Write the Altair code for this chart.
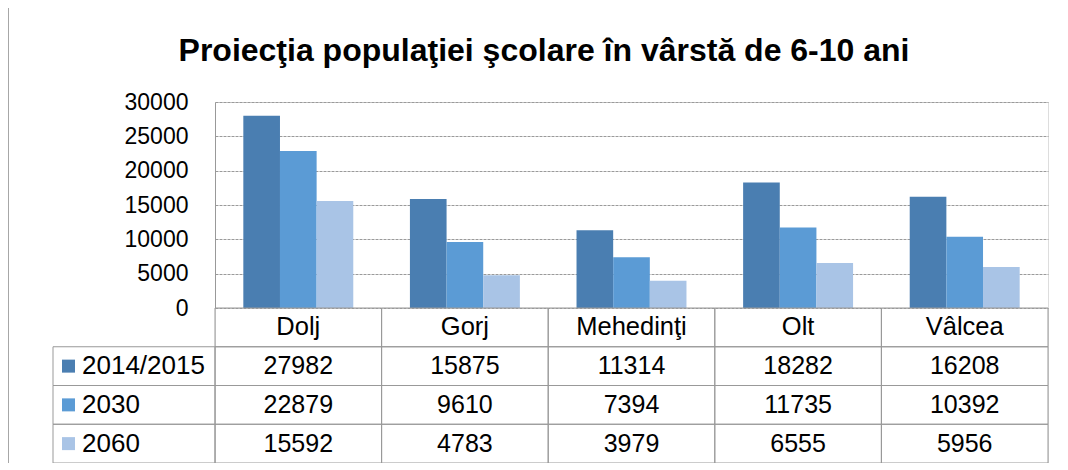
import altair as alt
import pandas as pd

TITLE = "Proiecţia populaţiei şcolare în vârstă de 6-10 ani"
categories = ["Dolj", "Gorj", "Mehedinţi", "Olt", "Vâlcea"]
series = ["2014/2015", "2030", "2060"]
v2014 = [27982, 15875, 11314, 18282, 16208]
v2030 = [22879, 9610, 7394, 11735, 10392]
v2060 = [15592, 4783, 3979, 6555, 5956]
colors = ["#4a7eb1", "#5b9bd5", "#a9c4e6"]
y_ticks = [0, 5000, 10000, 15000, 20000, 25000, 30000]
HEADER = "_cat"

W, H = 833, 361
PLOT_H = 206
rows = [HEADER] + series

long = pd.DataFrame(
    [
        {"cat": c, "series": s, "row": s, "value": v}
        for s, vals in zip(series, [v2014, v2030, v2060])
        for c, v in zip(categories, vals)
    ]
)
header_df = pd.DataFrame({"cat": categories, "row": [HEADER] * len(categories)})
cells_df = pd.DataFrame([{"cat": c, "row": r} for r in rows for c in categories])
legend_df = pd.DataFrame({"row": series, "series": series})
title_df = pd.DataFrame({"t": [TITLE]})
one = pd.DataFrame({"a": [0]})

GRID = "#9a9a9a"
LINE = "#999999"
FONT = "Liberation Sans"

xs_bar = alt.Scale(domain=categories, paddingInner=0.34, paddingOuter=0.17)
xs_tab = alt.Scale(domain=categories, paddingInner=0, paddingOuter=0)
ys_tab = alt.Scale(domain=rows, range=[PLOT_H, H], paddingInner=0, paddingOuter=0)
col_scale = alt.Scale(domain=series, range=colors)

bars = alt.Chart(long).mark_bar().encode(
    x=alt.X("cat:N", scale=xs_bar, axis=None),
    xOffset=alt.XOffset("series:N", scale=alt.Scale(domain=series)),
    y=alt.Y(
        "value:Q",
        scale=alt.Scale(domain=[0, 30000], range=[PLOT_H, 0]),
        axis=alt.Axis(
            values=y_ticks,
            format="d",
            title=None,
            ticks=False,
            labelPadding=27,
            labelFontSize=23,
            labelColor="#000000",
            labelFont=FONT,
            domainColor=LINE,
            domainWidth=1,
            grid=True,
            gridColor=GRID,
            gridDash=[3, 1],
            gridWidth=1,
        ),
    ),
    color=alt.Color("series:N", scale=col_scale, legend=None),
)

cells = alt.Chart(cells_df).mark_rect(fillOpacity=0, stroke=LINE, strokeWidth=1).encode(
    x=alt.X("cat:N", scale=xs_tab, axis=None),
    y=alt.Y("row:N", scale=ys_tab, axis=None),
)

left_cells = alt.Chart(legend_df).mark_rect(fillOpacity=0, stroke=LINE, strokeWidth=1).encode(
    x=alt.value(-162),
    x2=alt.value(0),
    y=alt.Y("row:N", scale=ys_tab, axis=None),
)

swatches = alt.Chart(legend_df).mark_square(size=169, opacity=1).encode(
    x=alt.value(-146.5),
    y=alt.Y("row:N", scale=ys_tab, axis=None),
    color=alt.Color("series:N", scale=col_scale, legend=None),
)

legend_text = alt.Chart(legend_df).mark_text(
    align="left", baseline="middle", fontSize=26, font=FONT, color="#000000"
).encode(
    x=alt.value(-133),
    y=alt.Y("row:N", scale=ys_tab, axis=None),
    text="row:N",
)

header_text = alt.Chart(header_df).mark_text(
    align="center", baseline="middle", fontSize=25.5, font=FONT, color="#000000"
).encode(
    x=alt.X("cat:N", scale=xs_tab, axis=None),
    y=alt.Y("row:N", scale=ys_tab, axis=None),
    text="cat:N",
)

value_text = alt.Chart(long).mark_text(
    align="center", baseline="middle", fontSize=25, font=FONT, color="#000000"
).encode(
    x=alt.X("cat:N", scale=xs_tab, axis=None),
    y=alt.Y("row:N", scale=ys_tab, axis=None),
    text=alt.Text("value:Q", format="d"),
)

title = alt.Chart(title_df).mark_text(
    align="center", baseline="alphabetic", fontSize=32, fontWeight="bold", font=FONT, color="#000000"
).encode(x=alt.value(329), y=alt.value(-41), text="t:N")

frame_top = alt.Chart(one).mark_rule(color="#8a8a8a", strokeWidth=1.5).encode(
    x=alt.value(-207), x2=alt.value(W + 12), y=alt.value(-98)
)
frame_left = alt.Chart(one).mark_rule(color="#8a8a8a", strokeWidth=1.5).encode(
    x=alt.value(-207), y=alt.value(-98), y2=alt.value(H + 10)
)

chart = (
    alt.layer(
        frame_top, frame_left, title, bars, cells, left_cells, swatches,
        legend_text, header_text, value_text,
    )
    .resolve_scale(x="independent", y="independent")
    .properties(
        width=W,
        height=H,
        autosize=alt.AutoSizeParams(type="none"),
        padding={"left": 207, "top": 94, "right": 12, "bottom": 0},
    )
    .configure_view(stroke=None)
    .configure(font=FONT)
)

chart.save("out.html", embed_options={"renderer": "svg", "actions": False})
